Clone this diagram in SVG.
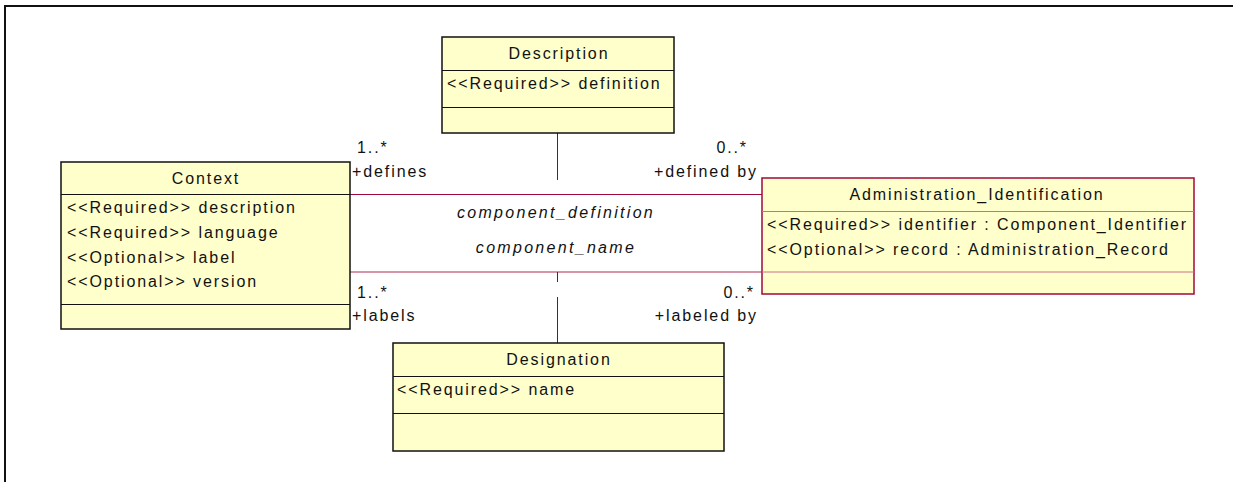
<svg xmlns="http://www.w3.org/2000/svg" width="1233" height="482" viewBox="0 0 1233 482">
<style>
text{font-family:"Liberation Sans",Arial,sans-serif;font-size:16px;letter-spacing:1.9px;fill:#111}
.it{font-style:italic;letter-spacing:2.3px}
.mid{text-anchor:middle}
.end{text-anchor:end}
.box{fill:#ffffcb;stroke:#111;stroke-width:1.5}
.sep{stroke:#111;stroke-width:1}
.rbox{fill:#ffffcb;stroke:#a0083c;stroke-width:1.5}
.rsep{stroke:#c8708a;stroke-width:1}
.assoc{stroke:#a0083c;stroke-width:1;fill:none}
.assoc2{stroke:#c8708a;stroke-width:1.5;fill:none}
.stem{stroke:#333;stroke-width:1;fill:none}
</style>
<rect x="0" y="0" width="1233" height="482" fill="#fff"/>
<rect x="5" y="6" width="1240" height="500" fill="none" stroke="#111" stroke-width="2"/>
<g id="connectors">
<line class="assoc" x1="350" y1="194.5" x2="762" y2="194.5"/>
<line class="assoc2" x1="350" y1="272" x2="762" y2="272"/>
<line class="stem" x1="557.5" y1="133" x2="557.5" y2="180"/>
<line class="stem" x1="557.5" y1="272" x2="557.5" y2="282"/>
<line class="stem" x1="557.5" y1="297" x2="557.5" y2="343"/>
<text x="357" y="153">1..*</text>
<text x="352" y="177">+defines</text>
<text class="end" x="748" y="153">0..*</text>
<text class="end" x="758" y="177">+defined by</text>
<text class="it mid" x="556" y="218">component_definition</text>
<text class="it mid" x="556" y="253">component_name</text>
<text x="357" y="298">1..*</text>
<text x="352" y="321">+labels</text>
<text class="end" x="755" y="298">0..*</text>
<text class="end" x="758" y="321">+labeled by</text>
</g>
<g id="Context">
<rect class="box" x="61" y="162" width="289" height="167"/>
<line class="sep" x1="61" y1="194.5" x2="350" y2="194.5"/>
<line class="sep" x1="61" y1="304.5" x2="350" y2="304.5"/>
<text class="mid" x="206" y="184">Context</text>
<text x="67" y="213">&lt;&lt;Required&gt;&gt; description</text>
<text x="67" y="238">&lt;&lt;Required&gt;&gt; language</text>
<text x="67" y="263">&lt;&lt;Optional&gt;&gt; label</text>
<text x="67" y="287">&lt;&lt;Optional&gt;&gt; version</text>
</g>
<g id="Description">
<rect class="box" x="442" y="37" width="232" height="96"/>
<line class="sep" x1="442" y1="70.5" x2="674" y2="70.5"/>
<line class="sep" x1="442" y1="107.5" x2="674" y2="107.5"/>
<text class="mid" x="559" y="59">Description</text>
<text x="447" y="89">&lt;&lt;Required&gt;&gt; definition</text>
</g>
<g id="Administration_Identification">
<rect class="rbox" x="762" y="178" width="432" height="116"/>
<line class="rsep" x1="762" y1="211.5" x2="1194" y2="211.5"/>
<line class="rsep" x1="762" y1="272" x2="1194" y2="272"/>
<text class="mid" x="977" y="200">Administration_Identification</text>
<text x="767" y="230">&lt;&lt;Required&gt;&gt; identifier : Component_Identifier</text>
<text x="767" y="255">&lt;&lt;Optional&gt;&gt; record : Administration_Record</text>
</g>
<g id="Designation">
<rect class="box" x="393" y="343" width="331" height="108"/>
<line class="sep" x1="393" y1="376.5" x2="724" y2="376.5"/>
<line class="sep" x1="393" y1="413.5" x2="724" y2="413.5"/>
<text class="mid" x="559" y="365">Designation</text>
<text x="397" y="395">&lt;&lt;Required&gt;&gt; name</text>
</g>
</svg>
